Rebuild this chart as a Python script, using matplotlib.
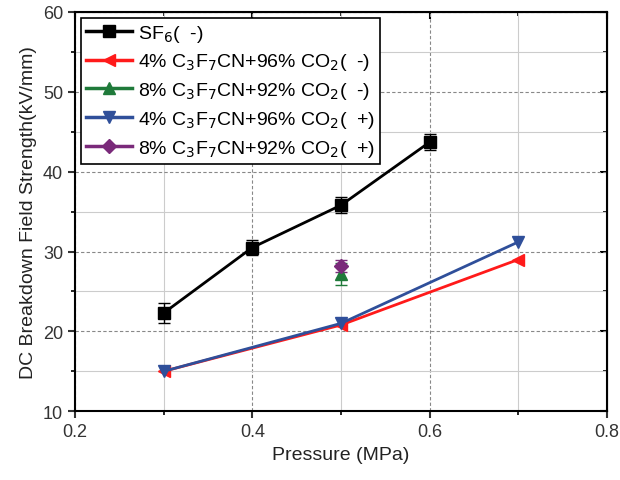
import matplotlib.pyplot as plt
from matplotlib.ticker import MultipleLocator
from matplotlib.lines import Line2D

plt.rcParams['font.family'] = ['Liberation Sans', 'DejaVu Sans']

# data
p_sf6 = [0.3, 0.4, 0.5, 0.6]
e_sf6 = [22.3, 30.5, 35.8, 43.7]
err_sf6 = [1.3, 0.9, 1.0, 1.0]

p_4 = [0.3, 0.5, 0.7]
e_4_neg = [15.0, 20.8, 29.0]
e_4_pos = [15.0, 21.0, 31.2]

p_8 = [0.5]
e_8_neg = [27.2]
err_8_neg = [1.4]
e_8_pos = [28.2]
err_8_pos = [0.8]

labels = ['SF$_6$(  -)',
          '4% C$_3$F$_7$CN+96% CO$_2$(  -)',
          '8% C$_3$F$_7$CN+92% CO$_2$(  -)',
          '4% C$_3$F$_7$CN+96% CO$_2$(  +)',
          '8% C$_3$F$_7$CN+92% CO$_2$(  +)']
colors = ['black', '#ff1a1a', '#1f7a3a', '#2f4f9a', '#7a2a7a']
markers = ['s', '<', '^', 'v', 'D']
msizes = [8, 9, 9, 9, 7]

fig = plt.figure(figsize=(6.2, 4.81), dpi=100)
ax = fig.add_axes([0.121, 0.143, 0.858, 0.83])

ax.errorbar(p_sf6, e_sf6, yerr=err_sf6, color=colors[0], marker='s', ms=8, lw=2,
            capsize=4, elinewidth=1, zorder=5)
ax.plot(p_4, e_4_neg, color=colors[1], marker='<', ms=9, lw=2, zorder=4)
ax.errorbar(p_8, e_8_neg, yerr=err_8_neg, color=colors[2], marker='^', ms=9, lw=2,
            capsize=4, elinewidth=1, zorder=4)
ax.plot(p_4, e_4_pos, color=colors[3], marker='v', ms=9, lw=2, zorder=4)
ax.errorbar(p_8, e_8_pos, yerr=err_8_pos, color=colors[4], marker='D', ms=7, lw=2,
            capsize=4, elinewidth=1, zorder=4)

ax.set_xlim(0.2, 0.8)
ax.set_ylim(10, 60)
ax.xaxis.set_major_locator(MultipleLocator(0.2))
ax.xaxis.set_minor_locator(MultipleLocator(0.1))
ax.yaxis.set_major_locator(MultipleLocator(10))
ax.yaxis.set_minor_locator(MultipleLocator(5))
ax.xaxis.set_major_formatter(lambda v, pos: f'{v:.1f}')

ax.grid(which='major', color='#888888', ls=(0, (3, 2)), lw=0.8)
ax.grid(which='minor', color='#cccccc', ls='-', lw=0.8)
ax.set_axisbelow(True)

for s in ax.spines.values():
    s.set_linewidth(1.5)
ax.tick_params(which='major', direction='out', length=5, width=1.5, labelsize=13, colors='#333333')
ax.tick_params(which='minor', direction='out', length=3, width=1.2)

top = ax.secondary_xaxis('top')
top.xaxis.set_major_locator(MultipleLocator(0.2))
top.xaxis.set_minor_locator(MultipleLocator(0.1))
top.tick_params(which='major', direction='in', length=5, width=1.5, labeltop=False)
top.tick_params(which='minor', direction='in', length=3, width=1.2)
right = ax.secondary_yaxis('right')
right.yaxis.set_major_locator(MultipleLocator(10))
right.yaxis.set_minor_locator(MultipleLocator(5))
right.tick_params(which='major', direction='in', length=5, width=1.5, labelright=False)
right.tick_params(which='minor', direction='in', length=3, width=1.2)

ax.set_xlabel('Pressure (MPa)', fontsize=14, color='#222222')
ax.set_ylabel('DC Breakdown Field Strength(kV/mm)', fontsize=14, color='#222222')

handles = [Line2D([], [], color=c, marker=m, ms=ms, lw=2.5)
           for c, m, ms in zip(colors, markers, msizes)]
leg = ax.legend(handles, labels, loc='upper left', fontsize=14, frameon=True, fancybox=False,
                edgecolor='black', framealpha=1, handlelength=2.4, borderpad=0.25,
                labelspacing=0.4, handletextpad=0.3, borderaxespad=0.3)
leg.get_frame().set_linewidth(1.2)

fig.savefig('out.png', dpi=100)
